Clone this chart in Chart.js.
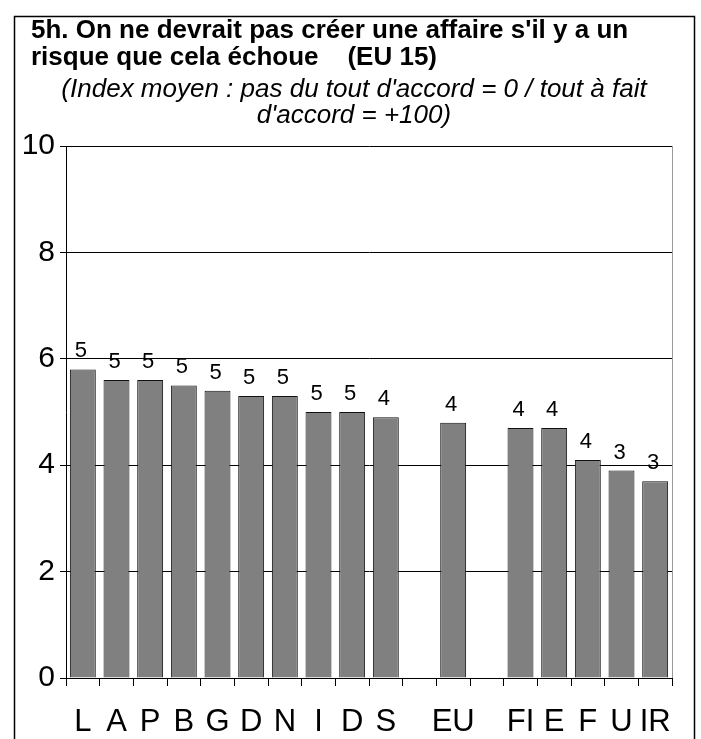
<!DOCTYPE html>
<html>
<head>
<meta charset="utf-8">
<script src="https://cdn.jsdelivr.net/npm/chart.js@4/dist/chart.umd.min.js"></script>
<style>
  html, body { margin: 0; padding: 0; background: #fff; }
  #chart { display: block; }
</style>
</head>
<body>
<canvas id="chart" width="701" height="739"></canvas>
<script>
// Chart data
const categories = ['L', 'A', 'P', 'B', 'G', 'D', 'N', 'I', 'D', 'S', '', 'EU', '', 'FI', 'E', 'F', 'U', 'IR'];
const values = [5.8, 5.6, 5.6, 5.5, 5.4, 5.3, 5.3, 5.0, 5.0, 4.9, null, 4.8, null, 4.7, 4.7, 4.1, 3.9, 3.7];
const valueLabels = ['5', '5', '5', '5', '5', '5', '5', '5', '5', '4', '', '4', '', '4', '4', '4', '3', '3'];
const yTicks = [0, 2, 4, 6, 8, 10];

const titleLines = ["5h. On ne devrait pas créer une affaire s'il y a un", "risque que cela échoue    (EU 15)"];
const subtitleLines = ["(Index moyen : pas du tout d'accord = 0 / tout à fait", "d'accord = +100)"];

const FONT = '"Liberation Sans", Arial, sans-serif';

// Page frame, titles and plot border
const decorPlugin = {
    id: 'decor',
    beforeDraw(chart) {
        const ctx = chart.ctx;
        ctx.save();
        ctx.fillStyle = '#fff';
        ctx.fillRect(0, 0, chart.width, chart.height);
        ctx.restore();
    },
    afterDraw(chart) {
        const ctx = chart.ctx;
        const area = chart.chartArea;
        ctx.save();
        // outer frame (open at the bottom)
        ctx.strokeStyle = '#000';
        ctx.lineWidth = 1.5;
        ctx.beginPath();
        ctx.moveTo(14.5, 739);
        ctx.lineTo(14.5, 16.5);
        ctx.lineTo(694.5, 16.5);
        ctx.lineTo(694.5, 739);
        ctx.stroke();

        // right edge of plot area
        ctx.strokeStyle = '#999';
        ctx.lineWidth = 1;
        ctx.beginPath();
        ctx.moveTo(Math.round(area.right) + 0.5, area.top);
        ctx.lineTo(Math.round(area.right) + 0.5, area.bottom);
        ctx.stroke();

        // title
        ctx.fillStyle = '#000';
        ctx.textBaseline = 'alphabetic';
        ctx.textAlign = 'left';
        ctx.font = 'bold 26px ' + FONT;
        ctx.fillText(titleLines[0], 31, 38, 606);
        ctx.fillText(titleLines[1], 31, 65);

        // subtitle
        ctx.textAlign = 'center';
        ctx.font = 'italic 26px ' + FONT;
        ctx.fillText(subtitleLines[0], 354, 97, 592);
        ctx.fillText(subtitleLines[1], 354, 123);

        // value labels above bars
        const meta = chart.getDatasetMeta(0);
        ctx.font = '22px ' + FONT;
        ctx.textAlign = 'center';
        meta.data.forEach((bar, i) => {
            if (values[i] == null) return;
            ctx.fillText(valueLabels[i], bar.x - 2, bar.y - 12);
        });
        ctx.restore();
    }
};

const ctx = document.getElementById('chart').getContext('2d');
const chart = new Chart(ctx, {
    type: 'bar',
    data: {
        labels: categories,
        datasets: [{
            data: values,
            backgroundColor: '#808080',
            borderColor: '#111',
            borderWidth: 1,
            categoryPercentage: 1,
            barPercentage: 0.77
        }]
    },
    options: {
        responsive: false,
        animation: false,
        layout: {
            padding: { left: 10, right: 29, top: 146, bottom: 0 }
        },
        plugins: {
            legend: { display: false },
            title: { display: false },
            tooltip: { enabled: false }
        },
        scales: {
            x: {
                offset: true,
                grid: {
                    offset: true,
                    drawOnChartArea: false,
                    drawTicks: true,
                    tickLength: 8,
                    color: '#000'
                },
                border: { color: '#000', width: 1 },
                ticks: {
                    color: '#000',
                    font: { family: FONT, size: 31 },
                    padding: 18,
                    maxRotation: 0,
                    autoSkip: false
                },
                afterFit(scale) { scale.height = 61; }
            },
            y: {
                min: 0,
                max: 10,
                afterBuildTicks(scale) {
                    scale.ticks = yTicks.map(v => ({ value: v }));
                },
                grid: {
                    color: '#000',
                    lineWidth: 1,
                    tickLength: 6
                },
                border: { color: '#000', width: 1 },
                ticks: {
                    color: '#000',
                    font: { family: FONT, size: 30 },
                    padding: 5
                },
                afterFit(scale) { scale.width = 56; }
            }
        }
    },
    plugins: [decorPlugin]
});
</script>
</body>
</html>
